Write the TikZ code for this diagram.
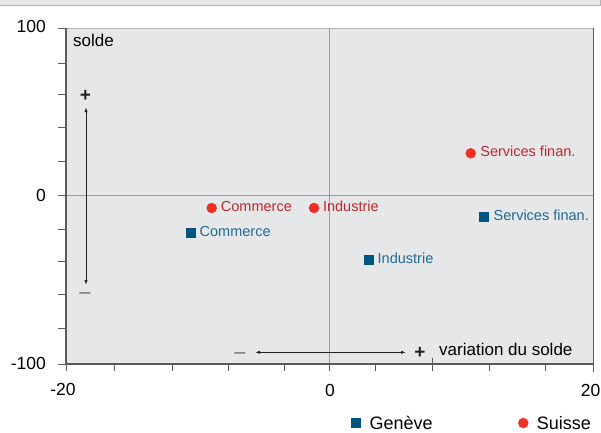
\documentclass[tikz,border=0pt]{standalone}
\usepackage{fontspec}
\setmainfont{Liberation Sans}
\usetikzlibrary{arrows.meta}
\definecolor{plotbg}{HTML}{E6E7E8}
\definecolor{axisc}{HTML}{5A5A5A}
\definecolor{zeroc}{HTML}{9A9A9A}
\definecolor{topc}{HTML}{B4B4B4}
\definecolor{redm}{HTML}{EE3124}
\definecolor{redt}{HTML}{C1272D}
\definecolor{bluem}{HTML}{00567F}
\definecolor{bluet}{HTML}{1F6A96}
\definecolor{arrowc}{HTML}{222222}
\definecolor{minusc}{HTML}{6A6A6A}
\tikzset{
  dotmark/.style={circle,fill=redm,minimum size=10.5pt,inner sep=0pt},
  sqmark/.style={rectangle,fill=bluem,minimum size=10pt,inner sep=0pt},
  redlab/.style={anchor=mid west,inner sep=0pt,text=redt,font=\fontsize{14.5}{16}\selectfont},
  bluelab/.style={anchor=mid west,inner sep=0pt,text=bluet,font=\fontsize{14.5}{16}\selectfont},
  ticklab/.style={inner sep=0pt,font=\fontsize{17.5}{20}\selectfont},
  axtitle/.style={inner sep=0pt,anchor=base west,font=\fontsize{17}{20}\selectfont},
  plussign/.style={inner sep=0pt,text=arrowc,font=\fontsize{19}{20}\selectfont\bfseries},
  minussign/.style={inner sep=0pt,text=minusc,font=\fontsize{20}{20}\selectfont},
  leglab/.style={inner sep=0pt,anchor=base west,font=\fontsize{18}{20}\selectfont},
  dblarrow/.style={arrowc,line width=0.8pt,{Latex[length=5pt,width=3.2pt]}-{Latex[length=5pt,width=3.2pt]}},
  tickline/.style={axisc,line width=1pt}
}
\begin{document}
\begin{tikzpicture}[x=1pt,y=-1pt]
\useasboundingbox (0,0) rectangle (601,432);
% top band
\draw[topc,fill=plotbg,line width=1pt] (-1,-1) rectangle (600.5,5.5);
% plot area
\fill[plotbg] (66,28) rectangle (593,364);
\draw[topc,line width=1pt] (66,28) -- (593,28);
\draw[axisc,line width=1pt] (593,28) -- (593,372);
% zero lines
\draw[zeroc,line width=0.9pt] (66,195.5) -- (593,195.5);
\draw[zeroc,line width=0.9pt] (329.5,28) -- (329.5,364);
% axes
\draw[axisc,line width=1.3pt] (66,28) -- (66,364) -- (593,364);
% left ticks
\foreach \yy in {28,63,94.5,127,161,195.5,229,261,294,328.5,364}
  \draw[tickline] (58,\yy) -- (66,\yy);
% bottom ticks
\foreach \xx in {66,114,172,228.3,284.3,329.3,375,432.7,489.3,545}
  \draw[tickline] (\xx,364) -- (\xx,371);
\draw[tickline] (432.7,358) -- (432.7,364);
% tick labels
\node[ticklab,anchor=base east] (y100) at (46,32.5) {100};
\node[ticklab,anchor=base east] (y0) at (46,201) {0};
\node[ticklab,anchor=base east] (ym100) at (46,369) {-100};
\node[ticklab,anchor=base] (xm20) at (63,395.5) {-20};
\node[ticklab,anchor=base] (x0) at (330,396) {0};
\node[ticklab,anchor=base] (x20) at (590.5,396) {20};
% axis titles
\node[axtitle] (ytitle) at (73,46.5) {solde};
\node[axtitle] (xtitle) at (439,355.5) {variation du solde};
% vertical arrow
\node[plussign] (vplus) at (85.5,96) {+};
\node[minussign] (vminus) at (85,296) {–};
\coordinate (vtop) at (86,107);
\coordinate (vbot) at (86,285);
\draw[dblarrow] (vtop) -- (vbot);
% horizontal arrow
\node[minussign] (hminus) at (240,355.3) {–};
\node[plussign] (hplus) at (420,352.5) {+};
\coordinate (hleft) at (255,352.3);
\coordinate (hright) at (406,352.3);
\draw[dblarrow] (hleft) -- (hright);
% Suisse points
\node[dotmark] (sc) at (211.7,208) {};
\node[redlab] (scl) at ([xshift=3.6pt,yshift=-1pt]sc.east) {Commerce};
\node[dotmark] (si) at (314,208) {};
\node[redlab] (sil) at ([xshift=3.4pt,yshift=-1pt]si.east) {Industrie};
\node[dotmark] (ss) at (470.7,153.3) {};
\node[redlab] (ssl) at ([xshift=4pt,yshift=-1pt]ss.east) {Services finan.};
% Geneve points
\node[sqmark] (gc) at (191,232.7) {};
\node[bluelab] (gcl) at ([xshift=3.3pt,yshift=-1pt]gc.east) {Commerce};
\node[sqmark] (gi) at (369,260) {};
\node[bluelab] (gil) at ([xshift=3.3pt,yshift=-1pt]gi.east) {Industrie};
\node[sqmark] (gs) at (484,217.3) {};
\node[bluelab] (gsl) at ([xshift=4.3pt,yshift=-1pt]gs.east) {Services finan.};
% legend
\node[sqmark] (leggm) at (356,423.3) {};
\node[leglab] (leggt) at (369.3,429.5) {Genève};
\node[dotmark] (legsm) at (523.3,423) {};
\node[leglab] (legst) at (536.7,429.5) {Suisse};
\end{tikzpicture}
\end{document}
